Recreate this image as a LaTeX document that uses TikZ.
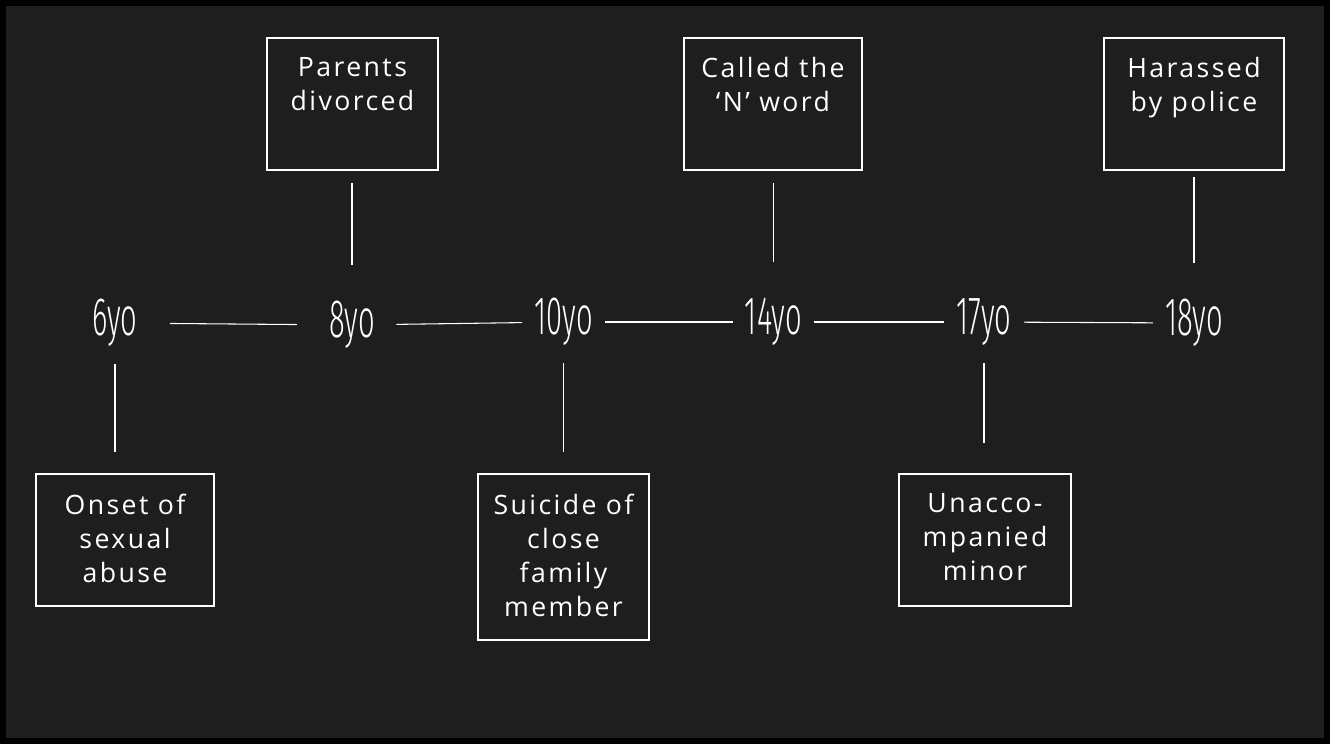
\documentclass[tikz,border=0pt]{standalone}
\usepackage{fontspec}
\usetikzlibrary{fit}
\setmainfont{Open Sans}[LetterSpace=9]
\newfontfamily\agefont{Fira Sans Light}[FakeStretch=0.54]
\definecolor{paper}{HTML}{1E1E1E}

\tikzset{
  age/.style={text=white, font=\agefont\fontsize{40.5}{44}\selectfont, inner xsep=9pt},
  evbox/.style={draw=white, line width=0.9pt, inner sep=0pt},
  evtext/.style={text=white, font=\fontsize{20}{25.5}\selectfont, align=center, inner sep=0pt, anchor=north},
  link/.style={draw=white, line width=0.8pt},
  stemup/.style={link, shorten <=45pt, shorten >=9pt},
  stemdown/.style={link, shorten <=31pt, shorten >=16pt}
}

\begin{document}
\begin{tikzpicture}[x=0.75pt, y=-0.75pt]
  \useasboundingbox (0,0) rectangle (1330,744);
  \fill[black] (0,0) rectangle (1330,744);
  \fill[paper] (6,6) rectangle (1324,738);

  % ages
  \node[age] (age6) at (115,323) {6yo};
  \node[age] (age8) at (352,325) {8yo};
  \node[age] (age10) at (563.5,322) {10yo};
  \node[age] (age14) at (773.5,322) {14yo};
  \node[age] (age17) at (984,322) {17yo};
  \node[age] (age18) at (1194,323) {18yo};

  % events
  \node[evbox, fit={(267,38) (438,170)}] (divorce) {};
  \node[evbox, fit={(684,38) (862,170)}] (nword) {};
  \node[evbox, fit={(1104,38) (1284,170)}] (police) {};
  \node[evbox, fit={(36,474) (214,606)}] (abuse) {};
  \node[evbox, fit={(478,474) (649,640)}] (suicide) {};
  \node[evbox, fit={(899,474) (1071,606)}] (minor) {};

  \node[evtext] (divorcetext) at ([yshift=-15pt]divorce.north) {Parents\\divorced};
  \node[evtext] (nwordtext) at ([yshift=-15pt]nword.north) {Called the\\`N' word};
  \node[evtext] (policetext) at ([yshift=-15pt]police.north) {Harassed\\by police};
  \node[evtext] (abusetext) at ([yshift=-15pt]abuse.north) {Onset of\\sexual\\abuse};
  \node[evtext] (suicidetext) at ([yshift=-15pt]suicide.north) {Suicide of\\close\\family\\member};
  \node[evtext] (minortext) at ([yshift=-15pt]minor.north) {Unacco-\\mpanied\\minor};

  % timeline
  \draw[link, shorten <=15pt, shorten >=15pt] (age6) -- (age8);
  \draw[link, shorten <=7pt] (age8) -- (age10);
  \draw[link] (age10) -- (age14);
  \draw[link] (age14) -- (age17);
  \draw[link] (age17) -- (age18);

  % stems
  \draw[stemup] (age8.center) -- (age8 |- divorce.south);
  \draw[stemup] (age14.center) -- (age14 |- nword.south);
  \draw[stemup, shorten >=5pt] (age18.center) -- (age18 |- police.south);
  \draw[stemdown] (age6.center) -- (age6 |- abuse.north);
  \draw[stemdown] (age10.center) -- (age10 |- suicide.north);
  \draw[stemdown, shorten >=23pt] (age17.center) -- (age17 |- minor.north);
\end{tikzpicture}
\end{document}
